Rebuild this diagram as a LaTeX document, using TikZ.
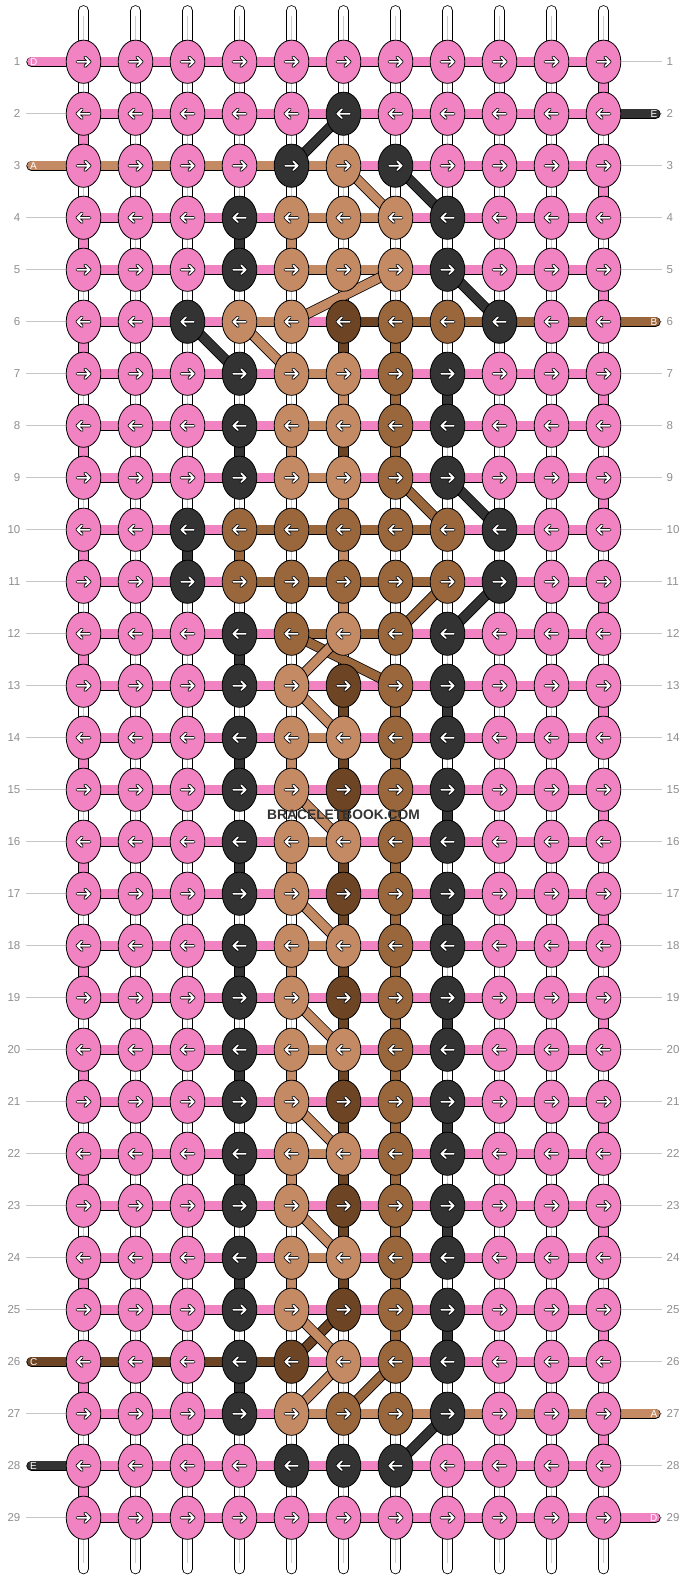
\documentclass[tikz,border=0pt]{standalone}
\usepackage{fontspec}
\setmainfont{Liberation Sans}
\usetikzlibrary{shapes.geometric}

\definecolor{cP}{HTML}{F283C3}
\definecolor{cT}{HTML}{C48A63}
\definecolor{cB}{HTML}{9A663C}
\definecolor{cC}{HTML}{6E4524}
\definecolor{cK}{HTML}{333333}
\definecolor{rowgray}{HTML}{8E8E8E}
\definecolor{linegray}{HTML}{C6C6C6}

\pgfdeclarelayer{warp}
\pgfdeclarelayer{links}
\pgfsetlayers{warp,links,main}

\tikzset{
    knot/.style={ellipse, draw=black, line width=0.8pt, minimum width=34.6pt, minimum height=43.2pt, inner sep=0pt},
    thread/.style={draw=black, line width=0.8pt, double=#1, double distance=8.8pt},
    vthread/.style={draw=black, line width=0.8pt, double=#1, double distance=9.4pt},
    endthread/.style={thread=#1, line cap=round},
    warpstring/.style={draw=black, line width=0.8pt, double=white, double distance=9.6pt, line cap=round},
    rownum/.style={text=rowgray, font=\fontsize{11.5}{12}\selectfont, inner sep=0pt},
    endlabel/.style={text=white, font=\fontsize{10}{10}\selectfont, inner sep=0pt},
    knotarrow/.pic={
        \draw[line width=3.3pt, black, line cap=round, line join=round]
            (-6.2pt,0pt) -- (6.2pt,0pt) (1.6pt,4.4pt) -- (6.2pt,0pt) -- (1.6pt,-4.4pt);
        \draw[line width=1.7pt, white, line cap=round, line join=round]
            (-6.2pt,0pt) -- (6.2pt,0pt) (1.6pt,4.4pt) -- (6.2pt,0pt) -- (1.6pt,-4.4pt);
    },
}

\begin{document}
\begin{tikzpicture}[x=52pt, y=-52pt]
    \useasboundingbox (-0.606,-0.187) rectangle (12.625,30.198);

    % knots, row by row
    \foreach \r/\knots in {
        1/{P,P,P,P,P,P,P,P,P,P,P},
        2/{P,P,P,P,P,K,P,P,P,P,P},
        3/{P,P,P,P,K,T,K,P,P,P,P},
        4/{P,P,P,K,T,T,T,K,P,P,P},
        5/{P,P,P,K,T,T,T,K,P,P,P},
        6/{P,P,K,T,T,C,B,B,K,P,P},
        7/{P,P,P,K,T,T,B,K,P,P,P},
        8/{P,P,P,K,T,T,B,K,P,P,P},
        9/{P,P,P,K,T,T,B,K,P,P,P},
        10/{P,P,K,B,B,B,B,B,K,P,P},
        11/{P,P,K,B,B,B,B,B,K,P,P},
        12/{P,P,P,K,B,T,B,K,P,P,P},
        13/{P,P,P,K,T,C,B,K,P,P,P},
        14/{P,P,P,K,T,T,B,K,P,P,P},
        15/{P,P,P,K,T,C,B,K,P,P,P},
        16/{P,P,P,K,T,T,B,K,P,P,P},
        17/{P,P,P,K,T,C,B,K,P,P,P},
        18/{P,P,P,K,T,T,B,K,P,P,P},
        19/{P,P,P,K,T,C,B,K,P,P,P},
        20/{P,P,P,K,T,T,B,K,P,P,P},
        21/{P,P,P,K,T,C,B,K,P,P,P},
        22/{P,P,P,K,T,T,B,K,P,P,P},
        23/{P,P,P,K,T,C,B,K,P,P,P},
        24/{P,P,P,K,T,T,B,K,P,P,P},
        25/{P,P,P,K,T,C,B,K,P,P,P},
        26/{P,P,P,K,C,T,B,K,P,P,P},
        27/{P,P,P,K,T,B,B,K,P,P,P},
        28/{P,P,P,P,K,K,K,P,P,P,P},
        29/{P,P,P,P,P,P,P,P,P,P,P}}{
        \pgfmathsetmacro{\dir}{1-2*mod(\r+1,2)}
        \foreach \k [count=\c] in \knots {
            \node[knot, fill=c\k] (k\c-\r) at (\c,\r) {};
            \pic[xscale=\dir] at (k\c-\r) {knotarrow};
        }
    }

    % row numbers
    \foreach \r in {1,...,29} {
        \node[rownum, anchor=east] (ln\r) at (-0.21,\r) {\r};
        \node[rownum, anchor=west] (rn\r) at (12.212,\r) {\r};
    }

    \begin{pgfonlayer}{warp}
        \foreach \c in {1,...,11} {
            \coordinate (top\c) at (\c,0.02);
            \coordinate (bot\c) at (\c,29.98);
            \draw[warpstring] (top\c) -- (bot\c);
            \draw[gray!40, line width=1.1pt] (\c,0.12) -- (\c,29.88);
        }
        \foreach \r in {1,...,29} {
            \coordinate (lg\r) at (-0.106,\r);
            \coordinate (rg\r) at (12.125,\r);
            \draw[linegray, line width=0.9pt] (lg\r) -- (k1-\r);
            \draw[linegray, line width=0.9pt] (k11-\r) -- (rg\r);
        }
    \end{pgfonlayer}

    \begin{pgfonlayer}{links}
        % pink weft
        \foreach \r in {1,...,29} {
            \foreach \c in {1,...,10} {
                \pgfmathtruncatemacro{\n}{\c+1}
                \draw[thread=cP] (k\c-\r.center) -- (k\n-\r.center);
            }
        }
        \foreach \r in {1,3,...,27} {
            \pgfmathtruncatemacro{\n}{\r+1}
            \draw[vthread=cP] (k11-\r.center) -- (k11-\n.center);
        }
        \foreach \r in {2,4,...,28} {
            \pgfmathtruncatemacro{\n}{\r+1}
            \draw[vthread=cP] (k1-\r.center) -- (k1-\n.center);
        }

        % coloured weft
        \foreach \c/\r/\col in {1/3/T,2/3/T,3/3/T,4/3/T,5/3/T,5/4/T,6/4/T,5/5/T,6/5/T,
            4/6/T,6/6/C,7/6/B,8/6/B,9/6/B,10/6/B,5/7/T,5/8/T,5/9/T,
            4/10/B,5/10/B,6/10/B,7/10/B,4/11/B,5/11/B,6/11/B,7/11/B,5/12/B,6/12/B,
            5/14/T,5/16/T,5/18/T,5/20/T,5/22/T,5/24/T,
            1/26/C,2/26/C,3/26/C,4/26/C,
            5/27/T,6/27/T,7/27/T,8/27/T,9/27/T,10/27/T} {
            \pgfmathtruncatemacro{\n}{\c+1}
            \draw[thread=c\col] (k\c-\r.center) -- (k\n-\r.center);
        }

        % carried threads
        \foreach \c/\r/\col in {4/4/K,5/4/T,6/6/C,7/6/B,6/7/T,7/7/B,8/7/K,
            4/8/K,5/8/T,6/8/C,7/8/B,6/9/T,3/10/K,4/10/B,6/10/T,6/11/T,4/12/K,
            6/13/C,7/13/B,8/13/K,7/25/B,8/25/K,4/26/K} {
            \pgfmathtruncatemacro{\n}{\r+1}
            \draw[vthread=c\col] (k\c-\r.center) -- (k\c-\n.center);
        }
        \foreach \r in {14,16,...,24} {
            \pgfmathtruncatemacro{\n}{\r+1}
            \draw[vthread=cK] (k4-\r.center) -- (k4-\n.center);
            \draw[vthread=cT] (k5-\r.center) -- (k5-\n.center);
            \draw[vthread=cC] (k6-\r.center) -- (k6-\n.center);
            \draw[vthread=cB] (k7-\r.center) -- (k7-\n.center);
        }
        \foreach \r in {15,17,...,23} {
            \pgfmathtruncatemacro{\n}{\r+1}
            \draw[vthread=cC] (k6-\r.center) -- (k6-\n.center);
            \draw[vthread=cB] (k7-\r.center) -- (k7-\n.center);
            \draw[vthread=cK] (k8-\r.center) -- (k8-\n.center);
        }

        % diagonals
        \foreach \a/\b/\col in {6-2/5-3/K,6-3/7-4/T,7-3/8-4/K,7-5/5-6/T,8-5/9-6/K,
            3-6/4-7/K,4-6/5-7/T,7-9/8-10/B,8-9/9-10/K,8-11/7-12/B,9-11/8-12/K,
            5-12/7-13/B,6-12/5-13/T,6-25/5-26/C,6-26/5-27/T,7-26/6-27/B,8-27/7-28/K} {
            \draw[thread=c\col] (k\a.center) -- (k\b.center);
        }
        \foreach \r in {13,15,...,25} {
            \pgfmathtruncatemacro{\n}{\r+1}
            \draw[thread=cT] (k5-\r.center) -- (k6-\n.center);
        }

        % loose ends
        \foreach \r/\col in {1/P,3/T,26/C,28/K} {
            \coordinate (in\r) at (0,\r);
            \draw[endthread=c\col] (in\r) -- (k1-\r.center);
        }
        \foreach \r/\col in {2/K,6/B,27/T,29/P} {
            \coordinate (out\r) at (12,\r);
            \draw[endthread=c\col] (k11-\r.center) -- (out\r);
        }
    \end{pgfonlayer}

    \foreach \r/\lab in {1/D,3/A,26/C,28/E}
        \node[endlabel, anchor=west] (in\lab\r) at (-0.03,\r) {\lab};
    \foreach \r/\lab in {2/E,6/B,27/A,29/D}
        \node[endlabel, anchor=east] (out\lab\r) at (12.037,\r) {\lab};

    \node[text=cK, font=\bfseries\fontsize{13.8}{14}\selectfont, inner sep=0pt] (mark) at (6,15.48) {BRACELETBOOK.COM};
\end{tikzpicture}
\end{document}
